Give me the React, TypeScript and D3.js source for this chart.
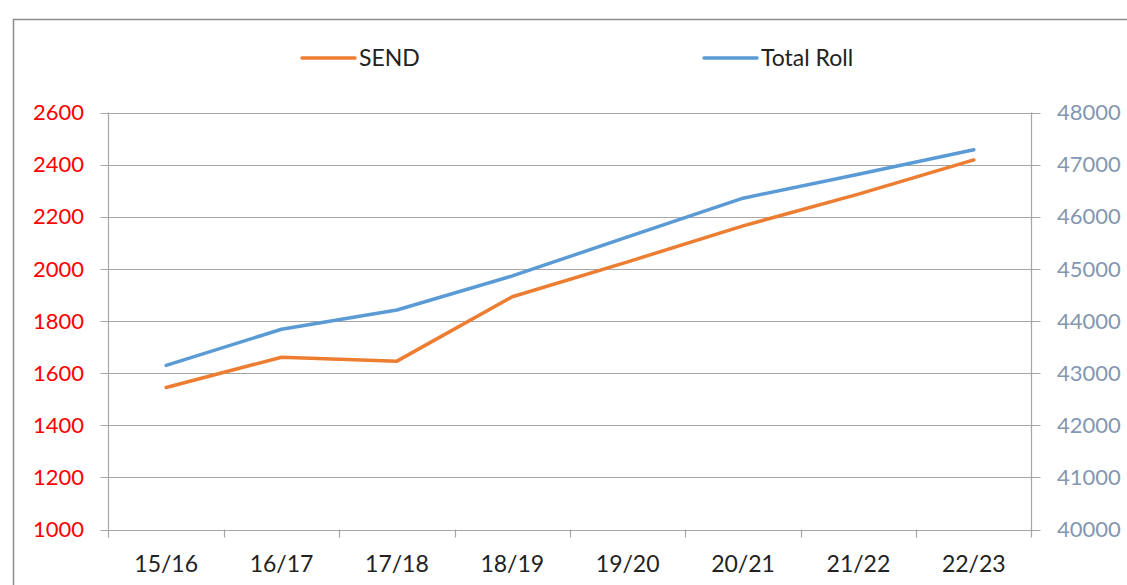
import * as d3 from 'd3';
import React, { useEffect, useRef } from 'react';

const years = ['15/16', '16/17', '17/18', '18/19', '19/20', '20/21', '21/22', '22/23'];
const sendValues = [1545, 1661, 1646, 1893, 2027, 2165, 2287, 2418];
const rollValues = [43149, 43841, 44211, 44864, 45613, 46356, 46817, 47284];
const leftTicks = [1000, 1200, 1400, 1600, 1800, 2000, 2200, 2400, 2600];
const rightTicks = [40000, 41000, 42000, 43000, 44000, 45000, 46000, 47000, 48000];

const App: React.FC = () => {
    const svgRef = useRef<SVGSVGElement | null>(null);

    useEffect(() => {
        const W = 1127;
        const H = 585;
        const left = 108.5, right = 1031.5, top = 112.5, bottom = 529.5;
        const font = 'Lato, "Open Sans", sans-serif';
        const gridColor = '#a6a6a6';

        d3.select(svgRef.current).selectAll('*').remove();
        const svg = d3.select(svgRef.current).attr('width', W).attr('height', H);

        svg.append('rect').attr('width', W).attr('height', H).attr('fill', '#fff');
        // chart frame
        svg.append('rect')
            .attr('x', 13.5).attr('y', 19.5)
            .attr('width', W + 20).attr('height', H + 20)
            .attr('fill', 'none').attr('stroke', '#8c8c8c').attr('stroke-width', 1.5);

        const x = d3.scaleBand().domain(years).range([left, right]);
        const yL = d3.scaleLinear().domain([1000, 2600]).range([bottom, top]);
        const yR = d3.scaleLinear().domain([40000, 48000]).range([bottom, top]);

        // gridlines (extend past axes as tick marks)
        svg.append('g').selectAll('line').data(leftTicks).enter().append('line')
            .attr('x1', left - 8).attr('x2', right + 9)
            .attr('y1', d => Math.round(yL(d)) + 0.5).attr('y2', d => Math.round(yL(d)) + 0.5)
            .attr('stroke', gridColor).attr('stroke-width', 1.2);

        // vertical axes
        svg.append('line').attr('x1', left).attr('x2', left).attr('y1', top).attr('y2', bottom + 8)
            .attr('stroke', gridColor).attr('stroke-width', 1.2);
        svg.append('line').attr('x1', right).attr('x2', right).attr('y1', top).attr('y2', bottom + 8)
            .attr('stroke', gridColor).attr('stroke-width', 1.2);

        // category ticks
        svg.append('g').selectAll('line').data(years.slice(1)).enter().append('line')
            .attr('x1', d => Math.round(x(d)!) + 0.5).attr('x2', d => Math.round(x(d)!) + 0.5)
            .attr('y1', bottom).attr('y2', bottom + 8)
            .attr('stroke', gridColor).attr('stroke-width', 1.2);

        // left labels
        svg.append('g').selectAll('text').data(leftTicks).enter().append('text')
            .attr('x', 84).attr('y', d => yL(d)).attr('dy', '0.35em')
            .attr('text-anchor', 'end').attr('fill', '#ff0000')
            .style('font-family', font).style('font-size', '22px')
            .text(d => d);

        // right labels
        svg.append('g').selectAll('text').data(rightTicks).enter().append('text')
            .attr('x', 1057).attr('y', d => yR(d)).attr('dy', '0.35em')
            .attr('text-anchor', 'start').attr('fill', '#8497b0')
            .style('font-family', font).style('font-size', '22px')
            .text(d => d);

        // category labels
        svg.append('g').selectAll('text').data(years).enter().append('text')
            .attr('x', d => x(d)! + x.bandwidth() / 2).attr('y', 564).attr('dy', '0.35em')
            .attr('text-anchor', 'middle').attr('fill', '#222')
            .style('font-family', font).style('font-size', '23px')
            .text(d => d);

        const cx = (d: string) => x(d)! + x.bandwidth() / 2;

        const sendLine = d3.line<number>().x((_, i) => cx(years[i])).y(d => yL(d));
        const rollLine = d3.line<number>().x((_, i) => cx(years[i])).y(d => yR(d));

        svg.append('path').datum(sendValues).attr('d', sendLine)
            .attr('fill', 'none').attr('stroke', '#ed7d31').attr('stroke-width', 3.5)
            .attr('stroke-linecap', 'round').attr('stroke-linejoin', 'round');
        svg.append('path').datum(rollValues).attr('d', rollLine)
            .attr('fill', 'none').attr('stroke', '#5b9bd5').attr('stroke-width', 3.5)
            .attr('stroke-linecap', 'round').attr('stroke-linejoin', 'round');

        // legend
        const legend = [
            { name: 'SEND', color: '#ed7d31', x: 302 },
            { name: 'Total Roll', color: '#5b9bd5', x: 704 },
        ];
        const lg = svg.append('g').selectAll('g').data(legend).enter().append('g')
            .attr('transform', d => `translate(${d.x},58)`);
        lg.append('line').attr('x1', 0).attr('x2', 53).attr('y1', 0).attr('y2', 0)
            .attr('stroke', d => d.color).attr('stroke-width', 3.5).attr('stroke-linecap', 'round');
        lg.append('text').attr('x', 57).attr('dy', '0.35em').attr('fill', '#222')
            .style('font-family', font).style('font-size', '23px')
            .text(d => d.name);
    }, []);

    return <svg ref={svgRef} style={{ position: 'absolute', left: 0, top: 0 }}></svg>;
};

export default App;
